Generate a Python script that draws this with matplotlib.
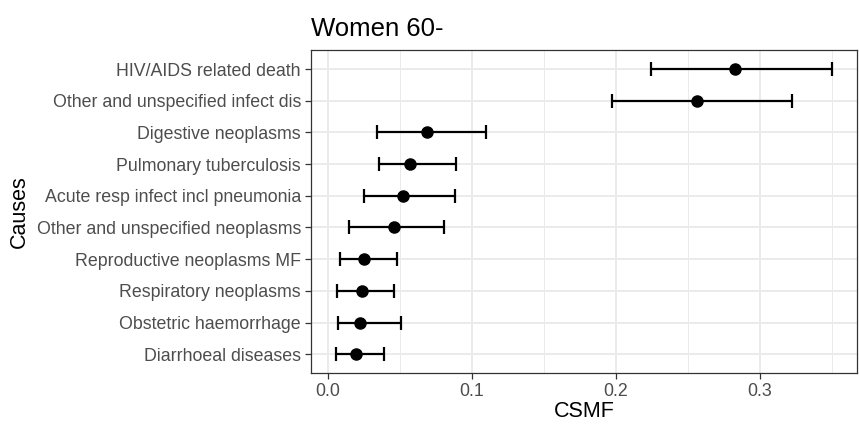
import matplotlib
matplotlib.use("Agg")
import matplotlib.pyplot as plt
import numpy as np

plt.rcParams['font.family'] = ['Liberation Sans', 'DejaVu Sans']

causes = ["HIV/AIDS related death", "Other and unspecified infect dis", "Digestive neoplasms",
          "Pulmonary tuberculosis", "Acute resp infect incl pneumonia", "Other and unspecified neoplasms",
          "Reproductive neoplasms MF", "Respiratory neoplasms", "Obstetric haemorrhage", "Diarrhoeal diseases"]
csmf = [0.2827, 0.2568, 0.0686, 0.0573, 0.0521, 0.0462, 0.0254, 0.0235, 0.0227, 0.0193]
lower = [0.2247, 0.1975, 0.0341, 0.0353, 0.0249, 0.0148, 0.0086, 0.0064, 0.0069, 0.0054]
upper = [0.3504, 0.3222, 0.1099, 0.0894, 0.0886, 0.0810, 0.0481, 0.0457, 0.0506, 0.0388]
xticks = [0.0, 0.1, 0.2, 0.3]
xticklabels = ["0.0", "0.1", "0.2", "0.3"]

fig = plt.figure(figsize=(8.59, 4.26), dpi=100)
ax = fig.add_axes([310.7/859, 1-373.3/426, (857-310.7)/859, (373.3-50)/426])

n = len(causes)
ypos = np.arange(n)[::-1]
csmf_a = np.array(csmf)
err = np.vstack([csmf_a - np.array(lower), np.array(upper) - csmf_a])

ax.errorbar(csmf_a, ypos, xerr=err, fmt='o', color='black', markersize=8,
            elinewidth=1.6, capsize=5, capthick=1.6, zorder=3)

lo, hi = min(lower), max(upper)
pad = 0.05 * (hi - lo)
ax.set_xlim(lo - pad, hi + pad)
ax.set_ylim(-0.6, n - 1 + 0.6)

ax.set_xticks(xticks)
ax.set_xticklabels(xticklabels)
ax.set_xticks([0.05, 0.15, 0.25, 0.35], minor=True)
ax.set_yticks(ypos)
ax.set_yticklabels(causes)

ax.grid(which='major', color='#EBEBEB', linewidth=1.4, zorder=0)
ax.grid(which='minor', axis='x', color='#EBEBEB', linewidth=0.7, zorder=0)
ax.set_axisbelow(True)

for s in ax.spines.values():
    s.set_color('#333333')
    s.set_linewidth(0.9)

ax.tick_params(axis='both', which='major', colors='#333333', length=4, width=0.9,
               labelsize=12.8, labelcolor='#4D4D4D', pad=3)
ax.tick_params(axis='x', which='minor', length=0)

ax.set_xlabel("CSMF", fontsize=15.5, color='black', labelpad=1)
ax.set_ylabel("Causes", fontsize=15.5, color='black', labelpad=4.5)
ax.set_title("Women 60-", fontsize=18.5, loc='left', color='black', pad=10)

fig.savefig("out.png", dpi=100, facecolor='white')
